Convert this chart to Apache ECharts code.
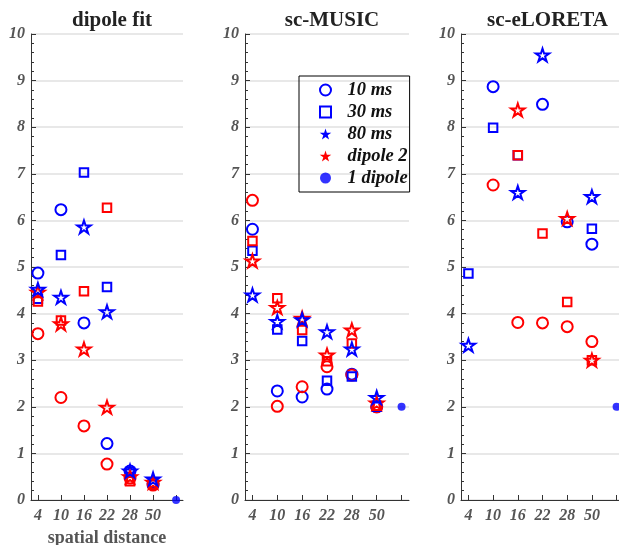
<!DOCTYPE html>
<html><head><meta charset="utf-8">
<script src="https://cdn.jsdelivr.net/npm/echarts@6/dist/echarts.min.js"></script>
<style>html,body{margin:0;padding:0;background:#fff}#c{width:619px;height:545px}</style>
</head><body><div id="c"></div>
<script>
const panelTitles = ['dipole fit', 'sc-MUSIC', 'sc-eLORETA'];
const distLabels = ['4', '10', '16', '22', '28', '50'];
const yTicks = [0, 1, 2, 3, 4, 5, 6, 7, 8, 9, 10];

// dipole fit
const p1_b10 = [4.87, 6.23, 3.80, 1.21, 0.62, 0.35];
const p1_r10 = [3.57, 2.20, 1.59, 0.77, 0.47, 0.32];
const p1_b30 = [4.32, 5.26, 7.03, 4.57, 0.60, 0.36];
const p1_r30 = [4.26, 3.85, 4.48, 6.27, 0.40, 0.33];
const p1_b80 = [4.52, 4.35, 5.86, 4.04, 0.62, 0.45];
const p1_r80 = [4.46, 3.78, 3.24, 1.99, 0.50, 0.38];
// sc-MUSIC
const p2_b10 = [5.81, 2.34, 2.21, 2.38, 2.70, 2.00];
const p2_r10 = [6.43, 2.01, 2.43, 2.86, 2.68, 2.00];
const p2_b30 = [5.35, 3.66, 3.41, 2.56, 2.65, 2.00];
const p2_r30 = [5.56, 4.33, 3.65, 2.98, 3.36, 2.02];
const p2_b80 = [4.40, 3.83, 3.87, 3.61, 3.24, 2.20];
const p2_r80 = [5.13, 4.13, 3.90, 3.11, 3.65, 2.08];
// sc-eLORETA
const p3_b10 = [null, 8.87, null, 8.49, 5.97, 5.49];
const p3_r10 = [null, 6.76, 3.81, 3.80, 3.72, 3.40];
const p3_b30 = [4.86, 7.99, 7.40, null, null, 5.82];
const p3_r30 = [null, null, 7.40, 5.72, 4.25, 3.00];
const p3_b80 = [3.32, null, 6.60, 9.55, null, 6.51];
const p3_r80 = [null, null, 8.37, null, 6.04, 3.00];
// 1 dipole reference (drawn at 7th position)
const oneDipole = [0, 2, 2];

const panels = [
  {b10:p1_b10,r10:p1_r10,b30:p1_b30,r30:p1_r30,b80:p1_b80,r80:p1_r80},
  {b10:p2_b10,r10:p2_r10,b30:p2_b30,r30:p2_r30,b80:p2_b80,r80:p2_r80},
  {b10:p3_b10,r10:p3_r10,b30:p3_b30,r30:p3_r30,b80:p3_b80,r80:p3_r80}
];

const BLUE = '#0000ff', RED = '#ff0000';
const STAR = 'path://M0,-100L22.45,-30.9L95.11,-30.9L36.33,11.8L58.78,80.9L0,38.2L-58.78,80.9L-36.33,11.8L-95.11,-30.9L-22.45,-30.9Z';
const SQUARE = 'path://M0,0L10,0L10,10L0,10Z';
const SERIF = 'Liberation Serif';

const grids = [
  {left: 31, top: 34, width: 152, height: 466, outerBoundsMode: 'none'},
  {left: 245, top: 34, width: 164, height: 466, outerBoundsMode: 'none'},
  {left: 461, top: 34, width: 163, height: 466, outerBoundsMode: 'none'}
];

const xAxes = [], yAxes = [], titles = [], series = [];
grids.forEach((g, k) => {
  titles.push({
    text: panelTitles[k], left: g.left + g.width / 2, top: 5, textAlign: 'center',
    textStyle: {fontFamily: SERIF, fontWeight: 'bold', fontSize: 21, color: '#222'}
  });
  xAxes.push({
    gridIndex: k, type: 'value', min: 0.7, max: 7.3,
    name: k === 0 ? 'spatial distance' : '', nameLocation: 'middle', nameGap: 29,
    nameTextStyle: {fontFamily: SERIF, fontWeight: 'bold', fontSize: 18, color: '#555'},
    axisLine: {show: true, onZero: false, lineStyle: {color: '#333', width: 1}},
    axisTick: {show: true, inside: true, length: 5, customValues: [1,2,3,4,5,6,7], lineStyle: {color: '#333'}},
    axisLabel: {
      customValues: [1,2,3,4,5,6], margin: 8,
      formatter: v => distLabels[Math.round(v) - 1] || '',
      fontFamily: SERIF, fontStyle: 'italic', fontWeight: 'bold', fontSize: 16, color: '#555'
    },
    splitLine: {show: false}
  });
  yAxes.push({
    gridIndex: k, type: 'value', min: yTicks[0], max: yTicks[yTicks.length - 1], interval: 1,
    axisLine: {show: true, lineStyle: {color: '#333', width: 1}},
    axisTick: {show: true, inside: true, length: 5, lineStyle: {color: '#333'}},
    minorTick: {show: true, splitNumber: 5, length: 3, lineStyle: {color: '#333'}},
    axisLabel: {margin: 6, fontFamily: SERIF, fontStyle: 'italic', fontWeight: 'bold', fontSize: 16, color: '#555'},
    splitLine: {show: true, lineStyle: {color: '#e0e0e0', width: 1.5}}
  });

  const p = panels[k];
  const mk = (name, vals, symbol, size, color) => ({
    name, type: 'scatter', xAxisIndex: k, yAxisIndex: k,
    symbol, symbolSize: size, symbolKeepAspect: true,
    itemStyle: {color: 'transparent', borderColor: color, borderWidth: 2, opacity: 1},
    emphasis: {disabled: true},
    data: vals.map((v, i) => [i + 1, v]).filter(d => d[1] !== null)
  });
  series.push(mk('10 ms', p.b10, 'circle', 11, BLUE));
  series.push(mk('10 ms (dipole 2)', p.r10, 'circle', 11, RED));
  series.push(mk('30 ms', p.b30, SQUARE, 8.5, BLUE));
  series.push(mk('30 ms (dipole 2)', p.r30, SQUARE, 8.5, RED));
  series.push(mk('dipole 2', p.r80, STAR, 13.5, RED));
  series.push(mk('80 ms', p.b80, STAR, 13.5, BLUE));
  series.push({
    name: '1 dipole', type: 'scatter', xAxisIndex: k, yAxisIndex: k,
    symbol: 'circle', symbolSize: 8, itemStyle: {color: BLUE},
    emphasis: {disabled: true},
    data: [[7, oneDipole[k]]]
  });
});

const legendItem = (name, icon, color, filled) => ({
  name, icon,
  itemStyle: {color: filled ? color : 'transparent', borderColor: color, borderWidth: filled ? 0 : 2}
});

const option = {
  animation: false,
  backgroundColor: '#fff',
  title: titles,
  grid: grids,
  xAxis: xAxes,
  yAxis: yAxes,
  legend: {
    left: 299, top: 76, orient: 'vertical',
    borderColor: '#000', borderWidth: 1, padding: [4, 2, 4, 20],
    itemWidth: 34, itemHeight: 11, itemGap: 2,
    selectedMode: false, symbolKeepAspect: true,
    textStyle: {fontFamily: SERIF, fontStyle: 'italic', fontWeight: 'bold', fontSize: 18.5, color: '#111', lineHeight: 20},
    data: [
      legendItem('10 ms', 'circle', BLUE, false),
      legendItem('30 ms', SQUARE, BLUE, false),
      legendItem('80 ms', STAR, BLUE, true),
      legendItem('dipole 2', STAR, RED, true),
      legendItem('1 dipole', 'circle', BLUE, true)
    ]
  },
  series
};

echarts.init(document.getElementById('c')).setOption(option);
</script>
</body></html>
